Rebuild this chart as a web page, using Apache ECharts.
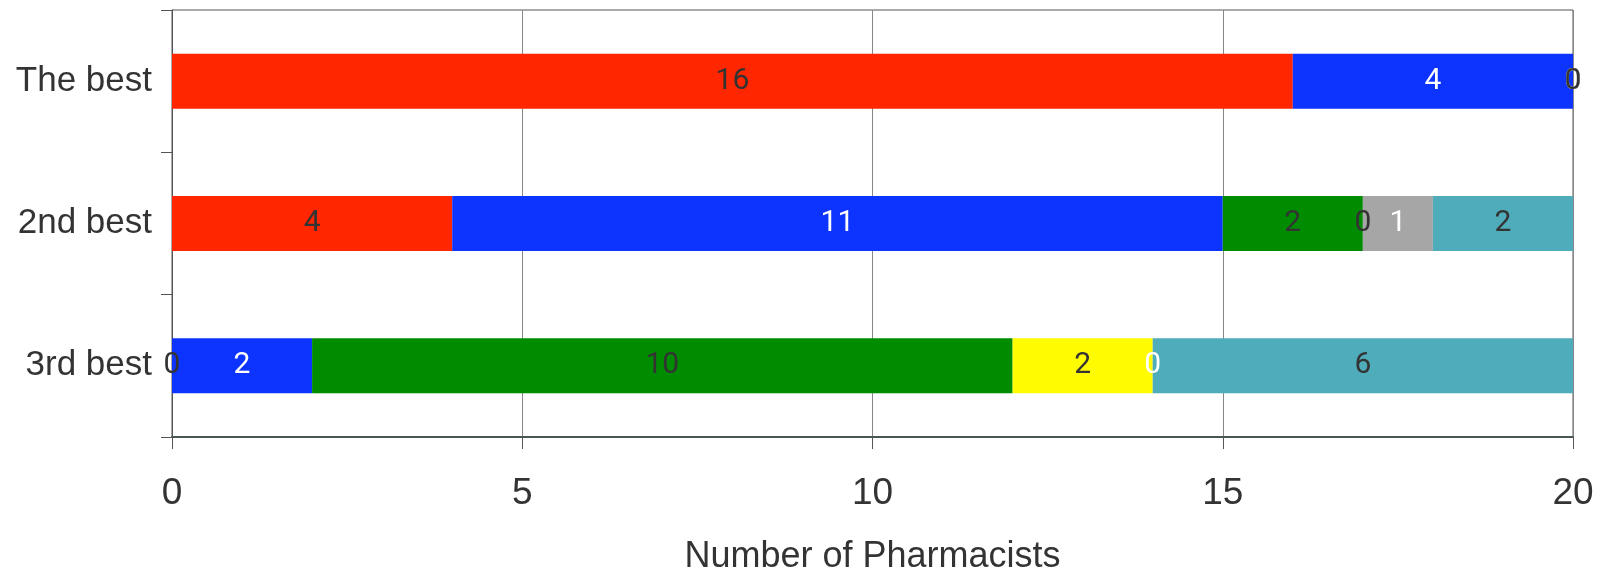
<!DOCTYPE html>
<html>
<head>
<meta charset="utf-8">
<script src="https://cdn.jsdelivr.net/npm/echarts@6/dist/echarts.min.js"></script>
<style>
html,body{margin:0;padding:0;background:#fff;}
#chart{width:1603px;height:570px;}
</style>
</head>
<body>
<div id="chart"></div>
<script>
const categories = ["The best", "2nd best", "3rd best"];
const seriesNames = ["Rank A", "Rank B", "Rank C", "Rank D", "Rank E", "Rank F"];
const redValues = [16, 4, 0];
const blueValues = [4, 11, 2];
const greenValues = [0, 2, 10];
const yellowValues = [0, 0, 2];
const grayValues = [0, 1, 0];
const tealValues = [0, 2, 6];
const xTicks = [0, 5, 10, 15, 20];

const colors = ['#FF2600', '#0D33FF', '#008C00', '#FFFB00', '#A6A6A6', '#4EACBB'];
const labelColors = ['#333', '#fff', '#333', '#333', '#fff', '#333'];
const values = [redValues, blueValues, greenValues, yellowValues, grayValues, tealValues];

const chart = echarts.init(document.getElementById('chart'));
const font = "'Liberation Sans', Arial, sans-serif";
chart.setOption({
  animation: false,
  grid: {left: 172, right: 30, top: 10, bottom: 133, show: true, borderColor: '#555', borderWidth: 1,
         containLabel: false, outerBoundsMode: 'none'},
  xAxis: {
    type: 'value', min: xTicks[0], max: xTicks[xTicks.length - 1], interval: 5,
    name: 'Number of Pharmacists', nameLocation: 'middle', nameGap: 102,
    nameTextStyle: {fontFamily: font, fontSize: 36, color: '#333'},
    axisLine: {show: true, lineStyle: {color: '#4a5656', width: 2}},
    axisTick: {show: true, length: 12, lineStyle: {color: '#555'}},
    axisLabel: {fontFamily: font, fontSize: 37, color: '#333', margin: 38},
    splitLine: {show: true, lineStyle: {color: '#888', width: 1}}
  },
  yAxis: {
    type: 'category', data: categories, inverse: true,
    axisLine: {show: true, lineStyle: {color: '#555', width: 1}},
    axisTick: {show: true, length: 11, lineStyle: {color: '#555'}},
    axisLabel: {fontFamily: font, fontSize: 35, color: '#333', margin: 20, padding: [4, 0, 0, 0]}
  },
  series: values.map((v, i) => ({
    type: 'bar', name: seriesNames[i], stack: 'total', data: v, barWidth: 55,
    itemStyle: {color: colors[i]},
    label: {show: true, position: 'inside', color: labelColors[i], fontFamily: 'Roboto', fontSize: 30, fontWeight: 'normal'}
  }))
});
</script>
</body>
</html>
